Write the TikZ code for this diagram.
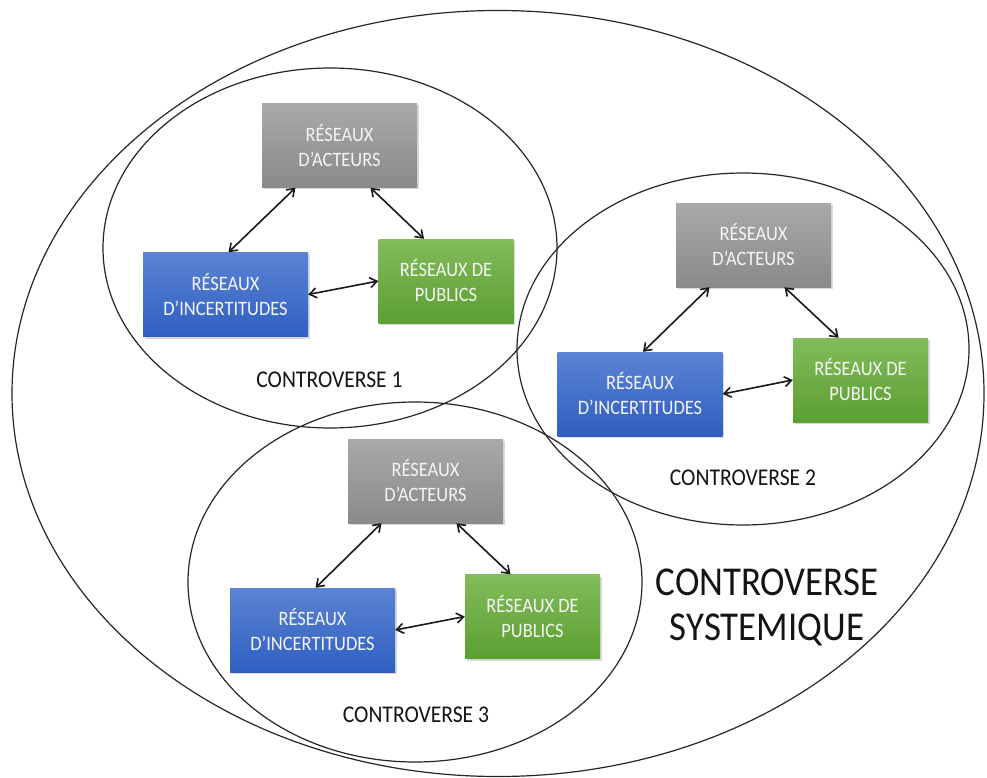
\documentclass[tikz,border=0pt]{standalone}
\usepackage{fontspec}
\setmainfont{Carlito}[FakeStretch=0.9]
\usetikzlibrary{arrows.meta,shadows,shapes.geometric}
\definecolor{grayT}{HTML}{A9A9A9}
\definecolor{grayB}{HTML}{8A8A8A}
\definecolor{blueT}{HTML}{5C83D3}
\definecolor{blueB}{HTML}{2F5FC1}
\definecolor{greenT}{HTML}{82BC5C}
\definecolor{greenB}{HTML}{5C9F31}
\definecolor{boxtext}{HTML}{F4F4F4}
\definecolor{labeltext}{HTML}{141414}
\begin{document}
\begin{tikzpicture}[x=1pt,y=-1pt,
  ring/.style={draw=black!85, line width=1.2pt},
  netbox/.style={rectangle, inner sep=0pt, align=center, text=boxtext,
    font=\fontsize{20.5}{25}\selectfont, minimum height=84pt,
    drop shadow={opacity=0.3, shadow xshift=1.5pt, shadow yshift=-2pt}},
  actbox/.style={netbox, minimum width=155pt, top color=grayT, bottom color=grayB},
  incbox/.style={netbox, minimum width=165pt, top color=blueT, bottom color=blueB},
  pubbox/.style={netbox, minimum width=135pt, top color=greenT, bottom color=greenB},
  link/.style={line width=1.6pt, draw=black!90, {Straight Barb[length=7pt,width=10pt]}-{Straight Barb[length=7pt,width=10pt]}},
  ctlabel/.style={text=labeltext, font=\fontsize{24}{29}\selectfont, inner sep=0pt},
]
\useasboundingbox (0,0) rectangle (987,778);
\fill[white] (0,0) rectangle (987,778);

% ellipses
\draw[ring] (498,393.5) ellipse [x radius=486, y radius=383];
\draw[ring] (330,248) ellipse [x radius=227, y radius=180];
\draw[ring] (743,349) ellipse [x radius=226, y radius=176];
\draw[ring] (415,582) ellipse [x radius=227, y radius=180];

% controverse 1
\node[actbox] (A1) at (339.5,145.5) {RÉSEAUX\\D’ACTEURS};
\node[incbox] (I1) at (225.5,294.5) {RÉSEAUX\\D’INCERTITUDES};
\node[pubbox] (P1) at (446,281) {RÉSEAUX DE\\PUBLICS};
\draw[link] ([xshift=-44pt]A1.south) -- ([xshift=3pt]I1.north);
\draw[link] ([xshift=31pt]A1.south) -- ([xshift=-22pt]P1.north);
\draw[link] (I1.east) -- (P1.west);
\node[ctlabel] (C1) at (329.5,380) {CONTROVERSE 1};

% controverse 2
\node[actbox] (A2) at (753.5,245) {RÉSEAUX\\D’ACTEURS};
\node[incbox] (I2) at (640,394) {RÉSEAUX\\D’INCERTITUDES};
\node[pubbox] (P2) at (860.5,380) {RÉSEAUX DE\\PUBLICS};
\draw[link] ([xshift=-44pt]A2.south) -- ([xshift=3pt]I2.north);
\draw[link] ([xshift=31pt]A2.south) -- ([xshift=-22pt]P2.north);
\draw[link] (I2.east) -- (P2.west);
\node[ctlabel] (C2) at (743,478) {CONTROVERSE 2};

% controverse 3
\node[actbox] (A3) at (425.5,481) {RÉSEAUX\\D’ACTEURS};
\node[incbox] (I3) at (312.5,630) {RÉSEAUX\\D’INCERTITUDES};
\node[pubbox] (P3) at (532.5,616.5) {RÉSEAUX DE\\PUBLICS};
\draw[link] ([xshift=-44pt]A3.south) -- ([xshift=3pt]I3.north);
\draw[link] ([xshift=31pt]A3.south) -- ([xshift=-22pt]P3.north);
\draw[link] (I3.east) -- (P3.west);
\node[ctlabel] (C3) at (416,715) {CONTROVERSE 3};

% systemic label
\node[text=labeltext, font=\fontsize{41}{45}\selectfont, align=center, inner sep=0pt] (CS) at (767,607) {CONTROVERSE\\SYSTEMIQUE};
\end{tikzpicture}
\end{document}
